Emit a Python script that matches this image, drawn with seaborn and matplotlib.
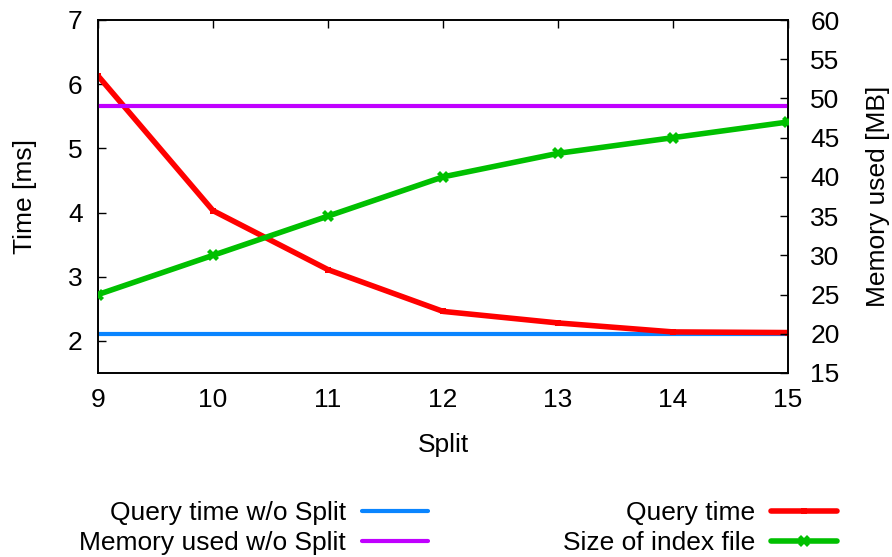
import matplotlib
matplotlib.use("Agg")
import matplotlib.pyplot as plt
import seaborn as sns
import pandas as pd
from matplotlib.lines import Line2D

# Data
split = [9, 10, 11, 12, 13, 14, 15]
query_time = [6.13, 4.03, 3.11, 2.46, 2.28, 2.14, 2.13]
index_size = [25, 30, 35, 40, 43, 45, 47]
query_time_no_split = 2.10
memory_no_split = 49

sns.set_theme(style="white")
plt.rcParams['font.family'] = ['Liberation Sans', 'DejaVu Sans']
for k in ["text.color", "axes.labelcolor", "xtick.color", "ytick.color", "axes.edgecolor"]:
    plt.rcParams[k] = "black"

fig = plt.figure(figsize=(8.92, 5.57), dpi=100)
ax = fig.add_axes([98/892, 1 - 373/557, (788-98)/892, (373-20)/557])
ax2 = ax.twinx()

c_blue = "#0a85ff"
c_purple = "#c000ff"
c_red = "#ff0000"
c_green = "#00c000"

df = pd.DataFrame({"split": split, "qt": query_time, "size": index_size,
                   "qt0": [query_time_no_split]*len(split),
                   "mem0": [memory_no_split]*len(split)})

sns.lineplot(data=df, x="split", y="qt0", ax=ax, color=c_blue, lw=3, zorder=2)
sns.lineplot(data=df, x="split", y="qt", ax=ax, color=c_red, lw=4,
             marker="s", markersize=5, markeredgewidth=0, zorder=3)
sns.lineplot(data=df, x="split", y="mem0", ax=ax2, color=c_purple, lw=3, zorder=2)
sns.lineplot(data=df, x="split", y="size", ax=ax2, color=c_green, lw=4,
             marker="X", markersize=8, markeredgewidth=0, zorder=3)

ax.set_xlim(9, 15)
ax.set_ylim(1.5, 7)
ax2.set_ylim(15, 60)
ax.set_xticks(split)
ax.set_yticks([2, 3, 4, 5, 6, 7])
ax2.set_yticks(list(range(15, 61, 5)))

fs = 19
ax.set_xlabel("Split", fontsize=fs, labelpad=15)
ax.set_ylabel("Time [ms]", fontsize=fs, labelpad=22)
ax2.set_ylabel("Memory used [MB]", fontsize=fs, labelpad=19)

ax.tick_params(axis="x", direction="in", length=6, width=1, top=True, labelsize=fs, pad=11)
ax.tick_params(axis="y", direction="in", length=6, width=1, labelsize=fs, pad=11, right=False)
ax2.tick_params(axis="y", direction="in", length=6, width=1, labelsize=fs, pad=16)
for a in (ax, ax2):
    for s in a.spines.values():
        s.set_color("black")
        s.set_linewidth(1.2)

handles = [
    Line2D([], [], color=c_blue, lw=3),
    Line2D([], [], color=c_purple, lw=3),
    Line2D([], [], color=c_red, lw=4, marker="s", markersize=5, markeredgewidth=0),
    Line2D([], [], color=c_green, lw=4, marker="X", markersize=8, markeredgewidth=0),
]
labels = ["Query time w/o Split", "Memory used w/o Split", "Query time", "Size of index file"]
fig.legend(handles, labels, ncol=2, loc="center", bbox_to_anchor=(458/892, 1 - 528/557),
           frameon=False, markerfirst=False, fontsize=fs, handlelength=2.5,
           columnspacing=5.1, labelspacing=0.22, handletextpad=0.6,
           borderpad=0, borderaxespad=0)

fig.savefig("out.png", dpi=100)
